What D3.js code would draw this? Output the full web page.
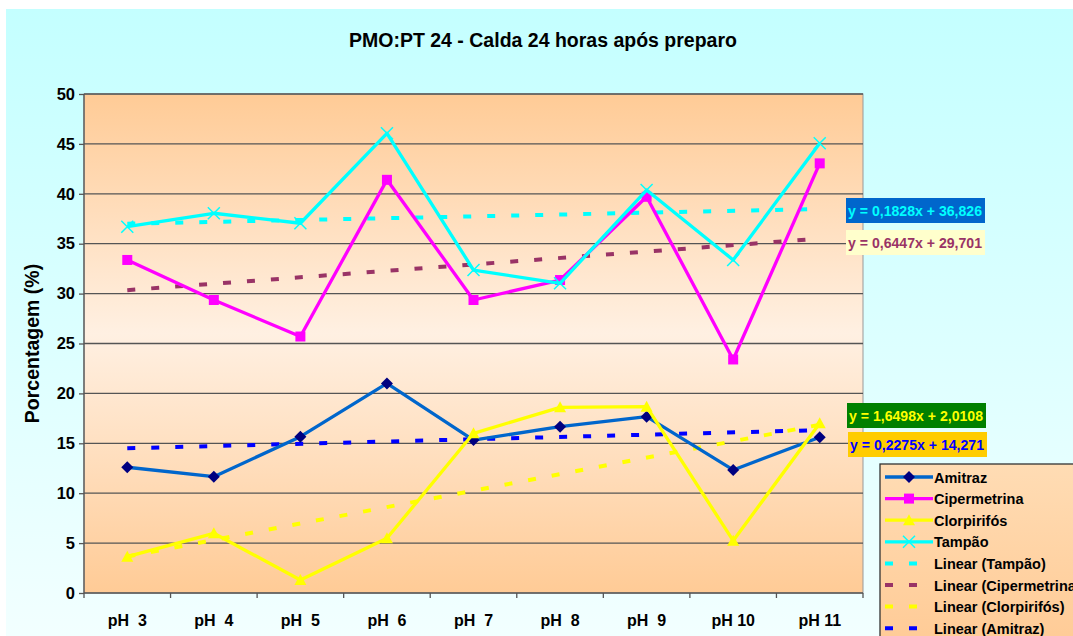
<!DOCTYPE html>
<html>
<head>
<meta charset="utf-8">
<script src="https://cdn.jsdelivr.net/npm/d3@7"></script>
<style>
  body { margin: 0; background: #fff; }
  text { font-family: Arial, "Liberation Sans", sans-serif; font-weight: bold; }
</style>
</head>
<body>
<div id="chart"></div>
<script>
// Data
const categories = ['pH  3', 'pH  4', 'pH  5', 'pH  6', 'pH  7', 'pH  8', 'pH  9', 'pH 10', 'pH 11'];
const amitraz = [12.6, 11.65, 15.66, 21.0, 15.33, 16.66, 17.67, 12.33, 15.6];
const cipermetrina = [33.37, 29.36, 25.7, 41.4, 29.36, 31.36, 39.7, 23.4, 43.05];
const clorpirifos = [3.64, 5.98, 1.3, 5.48, 16.0, 18.6, 18.67, 5.24, 17.0];
const tampao = [36.7, 38.05, 37.05, 46.06, 32.36, 31.03, 40.38, 33.37, 45.06];
const yTicks = [0, 5, 10, 15, 20, 25, 30, 35, 40, 45, 50];

// trend lines: equations shown on the chart (x = 1..9)
const trendNames = ['Tampão', 'Cipermetrina', 'Clorpirifós', 'Amitraz'];
const trendSlopes = [0.1828, 0.6447, 1.6498, 0.2275];
const trendIntercepts = [36.826, 29.701, 2.0108, 14.271];
const trendLabels = ['y = 0,1828x + 36,826', 'y = 0,6447x + 29,701', 'y = 1,6498x + 2,0108', 'y = 0,2275x + 14,271'];

const width = 1073, height = 636;
const margin = { top: 94, right: 210, bottom: 43, left: 84 };
const innerW = width - margin.left - margin.right;
const innerH = height - margin.top - margin.bottom;

const svg = d3.select('#chart').append('svg')
    .attr('width', width).attr('height', height);

const defs = svg.append('defs');
const bgGrad = defs.append('linearGradient').attr('id', 'bg')
    .attr('x1', 0).attr('y1', 0).attr('x2', 0).attr('y2', 1);
bgGrad.append('stop').attr('offset', '0%').attr('stop-color', '#c4ffff');
bgGrad.append('stop').attr('offset', '100%').attr('stop-color', '#f2ffff');

const plotGrad = defs.append('linearGradient').attr('id', 'plotbg')
    .attr('x1', 0).attr('y1', 0).attr('x2', 0).attr('y2', 1);
plotGrad.append('stop').attr('offset', '0%').attr('stop-color', '#ffcb96');
plotGrad.append('stop').attr('offset', '48%').attr('stop-color', '#fff0e2');
plotGrad.append('stop').attr('offset', '100%').attr('stop-color', '#ffcb96');

const legGrad = defs.append('linearGradient').attr('id', 'legbg')
    .attr('x1', 0).attr('y1', 0).attr('x2', 0).attr('y2', 1);
legGrad.append('stop').attr('offset', '0%').attr('stop-color', '#ffdcb4');
legGrad.append('stop').attr('offset', '100%').attr('stop-color', '#ffcb96');

// chart background
svg.append('rect').attr('x', 6).attr('y', 9)
    .attr('width', width - 6).attr('height', height - 9)
    .attr('fill', 'url(#bg)');

// title
svg.append('text').attr('x', 543).attr('y', 47)
    .attr('text-anchor', 'middle').style('font-size', '19.5px')
    .text('PMO:PT 24 - Calda 24 horas após preparo');

const g = svg.append('g').attr('transform', `translate(${margin.left},${margin.top})`);

// scales
const xScale = d3.scaleBand().domain(categories).range([0, innerW]);
const xPos = i => xScale(categories[i]) + xScale.bandwidth() / 2;
const yScale = d3.scaleLinear().domain([0, 50]).range([innerH, 0]);

g.append('rect').attr('width', innerW).attr('height', innerH)
    .attr('fill', 'url(#plotbg)').attr('stroke', '#999').attr('stroke-width', 1);

// grid
g.append('g').selectAll('line').data(yTicks.filter(d => d > 0)).join('line')
    .attr('x1', 0).attr('x2', innerW)
    .attr('y1', d => yScale(d)).attr('y2', d => yScale(d))
    .attr('stroke', '#555').attr('stroke-width', 1.3);

// y axis
const yAxis = d3.axisLeft(yScale).tickValues(yTicks).tickSize(5).tickPadding(4);
const yAxisDraw = g.append('g').call(yAxis);
yAxisDraw.selectAll('text').style('font-size', '16.5px').attr('fill', '#000');
yAxisDraw.selectAll('line, path').attr('stroke', '#555').attr('stroke-width', 1.3);
yAxisDraw.select('.domain').attr('d', `M0,0V${innerH}`);

// x axis: ticks at category boundaries
const xAxisG = g.append('g').attr('transform', `translate(0,${innerH})`);
xAxisG.append('line').attr('x1', 0).attr('x2', innerW)
    .attr('stroke', '#555').attr('stroke-width', 1.3);
xAxisG.selectAll('.tk').data(d3.range(categories.length + 1)).join('line')
    .attr('class', 'tk')
    .attr('x1', i => xScale.step() * i).attr('x2', i => xScale.step() * i)
    .attr('y1', 0).attr('y2', 5)
    .attr('stroke', '#555').attr('stroke-width', 1.3);
xAxisG.selectAll('text').data(categories).join('text')
    .attr('x', d => xScale(d) + xScale.bandwidth() / 2)
    .attr('y', 33).attr('text-anchor', 'middle')
    .style('font-size', '16px').style('white-space', 'pre')
    .attr('xml:space', 'preserve')
    .text(d => d);

// y axis title
svg.append('text')
    .attr('transform', `translate(39,${margin.top + innerH / 2}) rotate(-90)`)
    .attr('text-anchor', 'middle').style('font-size', '19.5px')
    .text('Porcentagem (%)');

// trend lines
const trendColors = ['#00ffff', '#993366', '#ffff00', '#0000ff'];
const trendG = g.append('g');
trendNames.forEach((n, k) => {
    const x0 = 1, x1 = categories.length;
    trendG.append('line')
        .attr('x1', xPos(0)).attr('x2', xPos(categories.length - 1))
        .attr('y1', yScale(trendSlopes[k] * x0 + trendIntercepts[k]))
        .attr('y2', yScale(trendSlopes[k] * x1 + trendIntercepts[k]))
        .attr('stroke', trendColors[k]).attr('stroke-width', 4)
        .attr('stroke-dasharray', '8,16');
});

// series
const series = [
    { name: 'Amitraz', values: amitraz, color: '#0066cc', marker: 'diamond', mcolor: '#000080' },
    { name: 'Cipermetrina', values: cipermetrina, color: '#ff00ff', marker: 'square', mcolor: '#ff00ff' },
    { name: 'Clorpirifós', values: clorpirifos, color: '#ffff00', marker: 'triangle', mcolor: '#ffff00' },
    { name: 'Tampão', values: tampao, color: '#00ffff', marker: 'cross', mcolor: '#00ffff' }
];

const line = d3.line().x((d, i) => xPos(i)).y(d => yScale(d));

function drawMarker(sel, type, color) {
    if (type === 'diamond') {
        sel.append('path').attr('d', 'M0,-6L6,0L0,6L-6,0Z').attr('fill', color);
    } else if (type === 'square') {
        sel.append('rect').attr('x', -5).attr('y', -5).attr('width', 10).attr('height', 10).attr('fill', color);
    } else if (type === 'triangle') {
        sel.append('path').attr('d', 'M0,-6L6,5L-6,5Z').attr('fill', color);
    } else {
        sel.append('path').attr('d', 'M-6,-6L6,6M6,-6L-6,6').attr('stroke', color).attr('stroke-width', 1.5).attr('fill', 'none');
    }
}

const seriesG = g.append('g');
series.forEach(s => {
    seriesG.append('path').datum(s.values).attr('d', line)
        .attr('fill', 'none').attr('stroke', s.color).attr('stroke-width', 3.3)
        .attr('stroke-linejoin', 'round');
    s.values.forEach((v, i) => {
        const m = seriesG.append('g').attr('transform', `translate(${xPos(i)},${yScale(v)})`);
        drawMarker(m, s.marker, s.mcolor);
    });
});

// equation labels
const eqBoxes = [
    { x: 846, y: 198, fill: '#0066cc', color: '#00ffff' },
    { x: 846, y: 230, fill: '#ffffcc', color: '#993366' },
    { x: 847, y: 403, fill: '#008000', color: '#ffff00' },
    { x: 848, y: 432, fill: '#ffcc00', color: '#0000ff' }
];
eqBoxes.forEach((b, k) => {
    svg.append('rect').attr('x', b.x).attr('y', b.y).attr('width', 139).attr('height', 25).attr('fill', b.fill);
    svg.append('text').attr('x', b.x + 2).attr('y', b.y + 18)
        .style('font-size', '14.5px').attr('fill', b.color)
        .attr('textLength', 134).attr('lengthAdjust', 'spacingAndGlyphs')
        .text(trendLabels[k]);
});

// legend
const legend = svg.append('g').attr('transform', 'translate(880,464)');
legend.append('rect').attr('width', 200).attr('height', 180)
    .attr('fill', 'url(#legbg)').attr('stroke', '#333').attr('stroke-width', 1.3);
const legendItems = series.map(s => ({ label: s.name, color: s.color, marker: s.marker, mcolor: s.mcolor, dash: false }))
    .concat(trendNames.map((n, k) => ({ label: `Linear (${n})`, color: trendColors[k], dash: true })));
legendItems.forEach((d, i) => {
    const row = legend.append('g').attr('transform', `translate(0,${13 + i * 21.6})`);
    if (d.dash) {
        row.append('line').attr('x1', 5).attr('x2', 53).attr('stroke', d.color)
            .attr('stroke-width', 4).attr('stroke-dasharray', '8,16');
    } else {
        row.append('line').attr('x1', 5).attr('x2', 53).attr('stroke', d.color).attr('stroke-width', 3.3);
        const m = row.append('g').attr('transform', 'translate(29,0)');
        drawMarker(m, d.marker, d.mcolor);
    }
    row.append('text').attr('x', 54).attr('y', 5.5).style('font-size', '14.5px').text(d.label);
});
</script>
</body>
</html>
